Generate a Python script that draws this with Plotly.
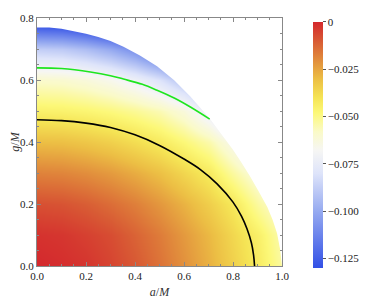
import plotly.graph_objects as go

# grid of spin a/M and charge g/M
a_vals = [0.0, 0.1, 0.2, 0.3, 0.4, 0.5, 0.6, 0.7, 0.8, 0.9, 1.0]
g_vals = [0.0, 0.1, 0.2, 0.3, 0.4, 0.5, 0.6, 0.7, 0.8]

# field values (rows = g, cols = a)
z_g00 = [0.0, -0.0011, -0.0025, -0.0057, -0.0096, -0.015, -0.0209, -0.0274, -0.0348, -0.0429, -0.053]
z_g01 = [-0.002, -0.0028, -0.0048, -0.0074, -0.0118, -0.0168, -0.0227, -0.029, -0.0366, -0.0445, -0.055]
z_g02 = [-0.008, -0.0087, -0.0107, -0.0138, -0.0174, -0.0223, -0.0277, -0.0342, -0.0415, -0.053, -0.062]
z_g03 = [-0.018, -0.0186, -0.0203, -0.0229, -0.0264, -0.0306, -0.0363, -0.0424, -0.053, -0.063, -0.078]
z_g04 = [-0.030, -0.0305, -0.0322, -0.0347, -0.0382, -0.0424, -0.0479, -0.0545, -0.066, -0.082, -0.108]
z_g05 = [-0.045, -0.0454, -0.0467, -0.0488, -0.0517, -0.0556, -0.0624, -0.0748, -0.0947, -0.1306, -0.160]
z_g06 = [-0.059, -0.0598, -0.0622, -0.0663, -0.0722, -0.0805, -0.0928, -0.1125, -0.142, -0.169, -0.198]
z_g07 = [-0.088, -0.0894, -0.0937, -0.1006, -0.110, -0.124, -0.141, -0.165, -0.188, -0.213, -0.24]
z_g08 = [-0.141, -0.1425, -0.147, -0.154, -0.164, -0.18, -0.196, -0.216, -0.237, -0.26, -0.285]
z_rows = [z_g00, z_g01, z_g02, z_g03, z_g04, z_g05, z_g06, z_g07, z_g08]

# outer edge of the allowed region
edge_a = [0.0, 0.05, 0.1, 0.15, 0.2, 0.25, 0.3, 0.353, 0.42, 0.49, 0.56, 0.626, 0.665, 0.705,
          0.75, 0.80, 0.835, 0.87, 0.905, 0.94, 0.962, 0.98, 0.992, 1.0]
edge_g = [0.770, 0.769, 0.765, 0.758, 0.749, 0.739, 0.726, 0.707, 0.679, 0.644, 0.599, 0.547,
          0.513, 0.476, 0.428, 0.375, 0.333, 0.289, 0.24, 0.19, 0.148, 0.105, 0.055, 0.0]

# black contour
black_a = [0.0, 0.1, 0.2, 0.3, 0.4, 0.5, 0.6, 0.667, 0.735, 0.80, 0.835, 0.857, 0.875, 0.884, 0.888]
black_g = [0.472, 0.469, 0.461, 0.447, 0.423, 0.389, 0.345, 0.311, 0.265, 0.206, 0.16, 0.12, 0.075, 0.035, 0.0]

# green contour
green_a = [0.0, 0.1, 0.218, 0.3, 0.353, 0.43, 0.49, 0.56, 0.626, 0.705]
green_g = [0.639, 0.637, 0.626, 0.614, 0.603, 0.586, 0.567, 0.542, 0.513, 0.474]

cb_vals = [0.0, -0.025, -0.05, -0.075, -0.1, -0.125]
cb_text = ["0", "\u22120.025", "\u22120.050", "\u22120.075", "\u22120.100", "\u22120.125"]

zmin, zmax = -0.13, 0.0
stops = [(-0.13, "rgb(50,80,230)"), (-0.1, "rgb(150,170,240)"), (-0.08, "rgb(222,228,250)"),
         (-0.068, "rgb(246,246,244)"), (-0.058, "rgb(250,250,200)"), (-0.048, "rgb(252,248,120)"),
         (-0.04, "rgb(245,228,85)"), (-0.03, "rgb(236,190,68)"), (-0.02, "rgb(225,140,60)"),
         (-0.01, "rgb(216,90,52)"), (0.0, "rgb(212,40,45)")]
colorscale = [[(v - zmin) / (zmax - zmin), c] for v, c in stops]

font = "Liberation Serif"

fig = go.Figure()
fig.add_trace(go.Heatmap(
    x=a_vals, y=g_vals, z=z_rows, zmin=zmin, zmax=zmax, zsmooth="best",
    colorscale=colorscale, hoverinfo="skip",
    colorbar=dict(x=1.127, xanchor="left", xpad=0, ypad=0, thickness=10,
                  lenmode="pixels", len=246,
                  y=0.488, yanchor="middle", outlinewidth=0,
                  tickvals=cb_vals, ticktext=cb_text, ticks="outside", ticklen=3,
                  tickcolor="#555", tickfont=dict(family=font, size=11, color="#222")),
))

# mask outside the region
mask_a = [-0.02] + edge_a + [1.02, 1.02, -0.02]
mask_g = [edge_g[0]] + edge_g + [0.0, 0.82, 0.82]
fig.add_trace(go.Scatter(x=mask_a, y=mask_g, mode="lines", fill="toself",
                         fillcolor="white", line=dict(width=0, color="white"),
                         hoverinfo="skip", showlegend=False))

fig.add_trace(go.Scatter(x=green_a, y=green_g, mode="lines",
                         line=dict(color="rgb(30,230,30)", width=1.6, shape="spline"),
                         showlegend=False))
fig.add_trace(go.Scatter(x=black_a, y=black_g, mode="lines",
                         line=dict(color="black", width=1.6, shape="spline"),
                         showlegend=False))

axis_common = dict(showline=True, linecolor="#888", linewidth=1, mirror="allticks",
                   ticks="inside", ticklen=4, tickcolor="#888", showgrid=False, zeroline=False,
                   tickfont=dict(family=font, size=11, color="#222"))
fig.update_xaxes(range=[0, 1], tickvals=[0, 0.2, 0.4, 0.6, 0.8, 1.0],
                 ticktext=["0.0", "0.2", "0.4", "0.6", "0.8", "1.0"],
                 minor=dict(dtick=0.05, tick0=0, ticks="inside", ticklen=2, tickcolor="#888"),
                 title=dict(text="<i>a</i>/<i>M</i>", font=dict(family=font, size=12, color="#333"),
                            standoff=6),
                 **axis_common)
fig.update_yaxes(range=[0, 0.8], tickvals=[0, 0.2, 0.4, 0.6, 0.8],
                 ticktext=["0.0", "0.2", "0.4", "0.6", "0.8"],
                 minor=dict(dtick=0.05, tick0=0, ticks="inside", ticklen=2, tickcolor="#888"),
                 title=dict(text="<i>g</i>/<i>M</i>", font=dict(family=font, size=12, color="#333"),
                            standoff=4),
                 **axis_common)

# the page adds an 8px body margin, so the figure is 8px smaller and margins shifted
fig.update_layout(width=359, height=291,
                  margin=dict(l=29, r=85, t=10, b=33, autoexpand=False),
                  paper_bgcolor="white", plot_bgcolor="white", showlegend=False)

fig.write_html("out.html")
